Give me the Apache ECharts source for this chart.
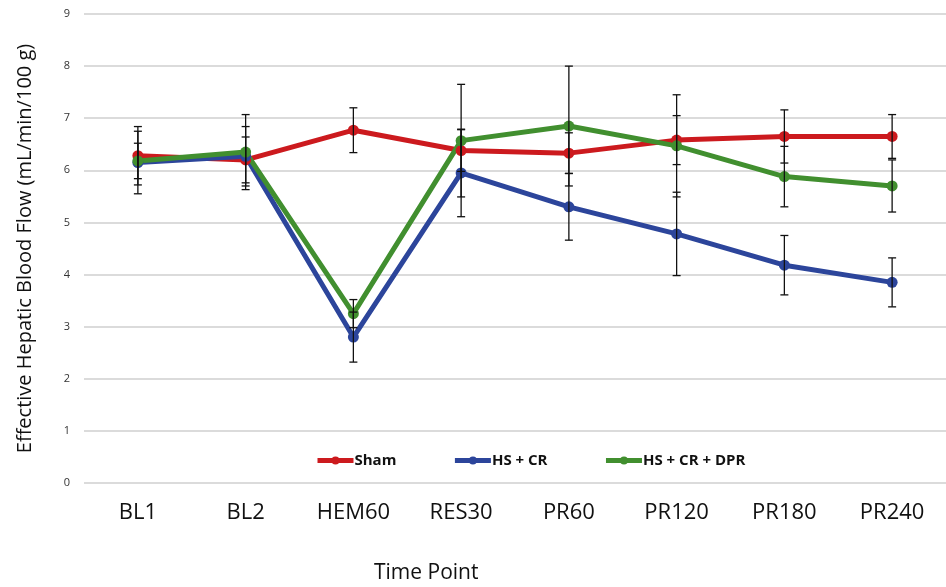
<!DOCTYPE html>
<html>
<head>
<meta charset="utf-8">
<script src="https://cdn.jsdelivr.net/npm/echarts@6/dist/echarts.min.js"></script>
<style>
  html, body { margin: 0; padding: 0; background: #fff; }
  #chart { width: 946px; height: 587px; }
</style>
</head>
<body>
<div id="chart"></div>
<script>
const timePoints = ['BL1', 'BL2', 'HEM60', 'RES30', 'PR60', 'PR120', 'PR180', 'PR240'];
const seriesNames = ['Sham', 'HS + CR', 'HS + CR + DPR'];

const shamMean = [6.28, 6.2, 6.77, 6.38, 6.33, 6.58, 6.65, 6.65];
const shamErr = [0.56, 0.44, 0.43, 0.4, 0.39, 0.47, 0.51, 0.42];

const hsCrMean = [6.15, 6.27, 2.8, 5.95, 5.3, 4.78, 4.18, 3.85];
const hsCrErr = [0.6, 0.57, 0.48, 0.84, 0.64, 0.8, 0.57, 0.47];

const hsCrDprMean = [6.18, 6.35, 3.25, 6.57, 6.85, 6.47, 5.88, 5.7];
const hsCrDprErr = [0.34, 0.72, 0.27, 1.08, 1.15, 0.98, 0.58, 0.5];

const colors = ['#cc1a1e', '#2c459b', '#418f2f'];

const chart = echarts.init(document.getElementById('chart'));

const errorSeries = (mean, err) => ({
    type: 'custom',
    z: 5,
    silent: true,
    data: mean.map((m, i) => [i, m - err[i], m + err[i]]),
    renderItem: (params, api) => {
        const lo = api.coord([api.value(0), api.value(1)]);
        const hi = api.coord([api.value(0), api.value(2)]);
        const w = 4;
        const style = { stroke: '#111', lineWidth: 1.3 };
        return {
            type: 'group',
            children: [
                { type: 'line', shape: { x1: hi[0], y1: hi[1], x2: lo[0], y2: lo[1] }, style },
                { type: 'line', shape: { x1: hi[0] - w, y1: hi[1], x2: hi[0] + w, y2: hi[1] }, style },
                { type: 'line', shape: { x1: lo[0] - w, y1: lo[1], x2: lo[0] + w, y2: lo[1] }, style },
            ],
        };
    },
});

const lineSeries = (name, mean, color) => ({
    name,
    type: 'line',
    data: mean,
    z: 3,
    symbol: 'circle',
    symbolSize: 11,
    lineStyle: { width: 5, color },
    itemStyle: { color },
});

const option = {
    animation: false,
    backgroundColor: '#fff',
    color: colors,
    grid: { left: 84, top: 14, width: 870, bottom: 104 },
    legend: {
        data: seriesNames,
        left: 310,
        top: 448,
        itemWidth: 36,
        itemHeight: 10,
        itemGap: 56,
        lineStyle: { width: 5 },
        textStyle: { fontFamily: 'Open Sans', fontWeight: 'bold', fontSize: 15, color: '#111', padding: [0, 0, 0, -4] },
    },
    graphic: [{
        type: 'text',
        left: 374,
        top: 563,
        style: { text: 'Time Point', font: '21px "Open Sans"', fill: '#111' },
    }],
    xAxis: {
        type: 'category',
        data: timePoints,
        boundaryGap: true,
        axisLine: { show: false },
        axisTick: { show: false },
        axisLabel: { fontFamily: 'Open Sans', fontSize: 22, color: '#111', margin: 19 },
    },
    yAxis: {
        type: 'value',
        min: 0,
        max: 9,
        interval: 1,
        name: 'Effective Hepatic Blood Flow (mL/min/100 g)',
        nameLocation: 'middle',
        nameGap: 49,
        nameTextStyle: { fontFamily: 'Open Sans', fontSize: 20, color: '#111', padding: [0, 0, 0, 0] },
        axisLine: { show: false },
        axisTick: { show: false },
        axisLabel: { fontFamily: 'Open Sans', fontSize: 11, color: '#333', margin: 14 },
        splitLine: { lineStyle: { color: '#cfcfcf', width: 1.5 } },
    },
    series: [
        lineSeries(seriesNames[0], shamMean, colors[0]),
        lineSeries(seriesNames[1], hsCrMean, colors[1]),
        lineSeries(seriesNames[2], hsCrDprMean, colors[2]),
        errorSeries(shamMean, shamErr),
        errorSeries(hsCrMean, hsCrErr),
        errorSeries(hsCrDprMean, hsCrDprErr),
    ],
};

chart.setOption(option);
</script>
</body>
</html>
